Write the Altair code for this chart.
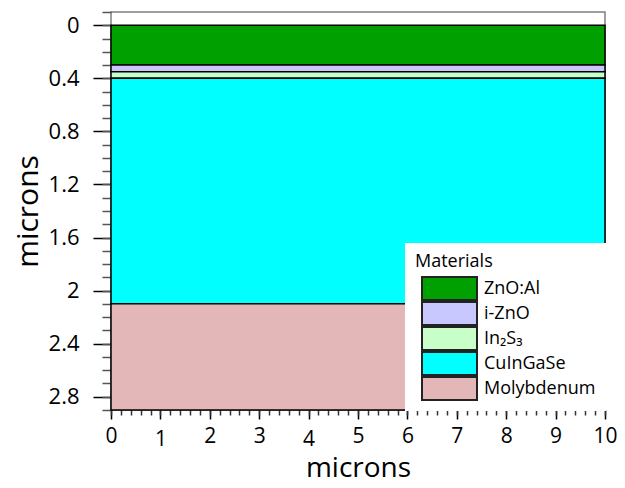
import altair as alt
import pandas as pd

materials = ["ZnO:Al", "i-ZnO", "In₂S₃", "CuInGaSe", "Molybdenum"]
y_top = [0.0, 0.3, 0.35, 0.4, 2.1]
y_bottom = [0.3, 0.35, 0.4, 2.1, 2.9]
x_start = [0, 0, 0, 0, 0]
x_end = [10, 10, 10, 10, 10]
colors = ["#00A000", "#C8C8FF", "#C8FFC8", "#00FFFF", "#E3B7B7"]

y_major = [0, 0.4, 0.8, 1.2, 1.6, 2.0, 2.4, 2.8]
y_minor = [round(-0.1 + 0.1 * i, 1) for i in range(31)]
x_major = list(range(11))
x_minor = [round(0.2 * i, 1) for i in range(51)]

df = pd.DataFrame({
    "material": materials,
    "y0": y_top,
    "y1": y_bottom,
    "x0": x_start,
    "x1": x_end,
})

FONT = "Open Sans"
xscale = alt.Scale(domain=[0, 10], nice=False, zero=False)
yscale = alt.Scale(domain=[-0.1, 2.9], reverse=True, nice=False, zero=False)

major = alt.Chart(df).mark_rect(stroke="black", strokeWidth=1.5).encode(
    x=alt.X("x0:Q", scale=xscale, axis=alt.Axis(
        orient="bottom", values=x_major, format="d", title="microns",
        tickSize=9, tickColor="#000", tickWidth=1.5, domain=False, grid=False,
        labelFlush=False, labelOverlap=False,
        labelFont=FONT, labelFontSize=21, labelColor="#000",
        labelPadding={"condition": {"test": "datum.value == 1 || datum.value == 4", "value": 9},
                      "value": 6},
        titleFont=FONT, titleFontSize=28, titleFontWeight="normal", titleColor="#000",
        titleY=66, titleBaseline="alphabetic")),
    x2="x1:Q",
    y=alt.Y("y0:Q", scale=yscale, axis=alt.Axis(
        orient="left", values=y_major, format="~g", title="microns",
        tickSize=18, tickColor="#000", tickWidth=1.5, domain=False, grid=False,
        labelFlush=False, labelOverlap=False,
        labelFont=FONT, labelFontSize=22, labelColor="#000", labelPadding=14,
        titleFont=FONT, titleFontSize=30, titleFontWeight="normal", titleColor="#000",
        titleAngle=270, titleX=-74, titleY=199, titleBaseline="alphabetic", titleAlign="center")),
    y2="y1:Q",
    color=alt.Color("material:N", sort=materials,
                    scale=alt.Scale(domain=materials, range=colors),
                    legend=alt.Legend(
                        title="Materials", orient="none", legendX=294, legendY=231,
                        fillColor="white", padding=10,
                        symbolType="M-1,-0.42L1,-0.42L1,0.42L-1,0.42Z", symbolSize=3025,
                        symbolStrokeColor="#222", symbolStrokeWidth=2,
                        clipHeight=25, rowPadding=0, symbolOffset=6, labelOffset=6,
                        labelFont=FONT, labelFontSize=18, labelColor="#000", labelLimit=300,
                        titleFont=FONT, titleFontSize=18, titleFontWeight="normal",
                        titleColor="#000", titlePadding=5)),
)

minor = alt.Chart(df).mark_rect(opacity=0).encode(
    x=alt.X("x0:Q", scale=xscale, axis=alt.Axis(
        orient="bottom", values=x_minor, labels=False, title=None,
        tickSize=5, tickColor="#333", tickWidth=1.5, domain=False, grid=False)),
    x2="x1:Q",
    y=alt.Y("y0:Q", scale=yscale, axis=alt.Axis(
        orient="left", values=y_minor, labels=False, title=None,
        tickSize=9, tickColor="#555", tickWidth=1.5, domain=False, grid=False)),
    y2="y1:Q",
)

chart = alt.layer(major, minor).resolve_axis(x="independent", y="independent").properties(
    width=494, height=398,
    autosize=alt.AutoSizeParams(type="none"),
    padding={"left": 103, "top": 4, "right": 12, "bottom": 72},
).configure_view(stroke="#808080", strokeWidth=1.5)

chart.save("out.html", embed_options={"renderer": "svg", "actions": False})
